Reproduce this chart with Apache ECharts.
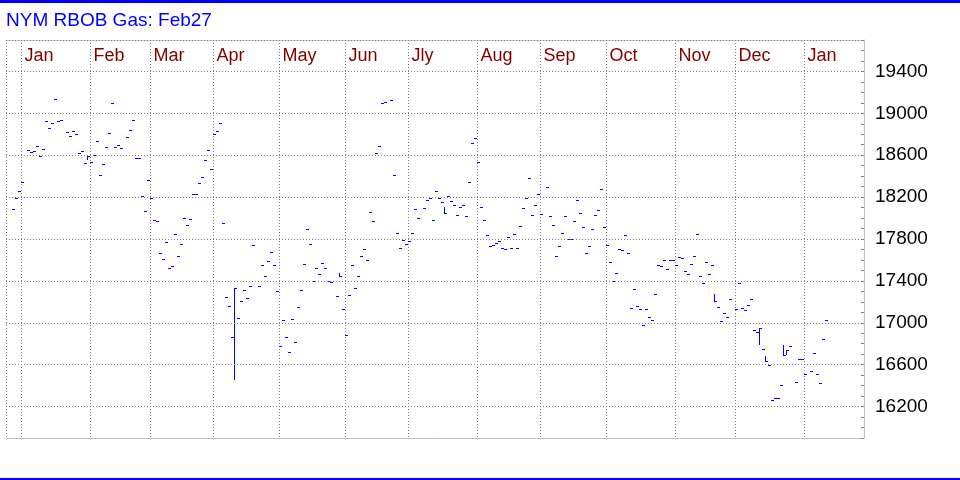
<!DOCTYPE html>
<html>
<head>
<meta charset="utf-8">
<script src="https://cdn.jsdelivr.net/npm/echarts@6/dist/echarts.min.js"></script>
<style>
  html, body { margin: 0; padding: 0; background: #fff; }
  #chart { width: 960px; height: 480px; }
</style>
</head>
<body>
<div id="chart"></div>
<script>
// settlement per weekday, null = no print (holiday / no trade)
var dec24 = [null, null, 18084, 18189, 18254, 18340];
var jan25 = [null, 18646, 18630, 18636, 18684, 18588, 18655, 18923, 18856, 18904, 19134, 18923, 18933, null, 18818, 18780, 18828, 18799, 18617, 18636, 18522, 18588, 18531];
var feb25 = [18598, 18732, 18407, 18512, 18675, 18809, 19096, 18675, 18694, 18665, null, 18770, 18837, 18933, 18569, 18569, 18215, 18072, 18368, 18187];
var mar25 = [17986, 17976, 17670, 17612, 17775, 17526, 17545, 17852, 17641, 17756, 18005, 17938, 17995, 18225, 18225, 18330, 18388, 18550, 18646, 18464, 18799];
var apr25 = [18828, 18904, 17957, 17249, 17163, 16866, 17335, 17048, 17210, 17316, 17239, 17354, 17746, null, 17354, 17555, 17450, 17593, 17679, 17555, 17306, 16780];
var may25 = [17029, 16866, 16722, 17038, 16818, 17153, 17316, 17565, 17899, 17756, 17402, 17526, 17469, 17574, 17526, 17402, 17392, null, 17258, 17450, 17134, 16885];
var jun25 = [17268, 17555, 17335, 17450, 17641, 17708, 17603, 18062, 17976, 18617, 18684, 19096, 19105, null, 19124, 18407, 17862, 17718, 17794, 17756, 17785];
var jul25 = [17862, 18091, 18005, null, 18100, 18177, 18187, 17986, 18254, 18187, 18158, 18053, 18215, 18167, 18129, 18033, 18110, 18129, 18024, 18340, 18713, 18761, 18531];
var aug25 = [18110, 17986, 17842, 17737, 17746, 17765, 17785, 17718, 17708, 17823, 17718, 17852, 17718, 17928, 18100, 18196, 18378, 18033, 18120, 18225, 18043];
var sep25 = [null, 18292, 18024, 17938, 17641, 17737, 17862, 18024, 17804, 17804, 17976, 18177, 18053, 17919, 17670, 17737, 17899, 18033, 18081, 18282, 17919, 17746];
var oct25 = [17584, 17402, 17478, 17708, 17698, 17842, 17670, 17143, 17325, 17163, 17134, 16981, 17134, 17057, 17029, 17277, 17555, 17545, 17603, 17517, 17603, 17603, 17555];
var nov25 = [17632, 17622, 17498, 17469, 17565, 17641, 17852, 17450, 17383, 17584, 17469, 17555, 17210, 17153, 17019, 17096, 17057, 17230, null, 17134];
var dec25 = [17383, 17143, 17124, 17172, 17230, 16933, 16914, 16952, 16751, 16636, 16598, 16263, 16282, 16282, 16407, 16694, 16741, 16780, null, 16435, 16655, 16655, 16512];
var jan26 = [null, 16541, 16713, 16512, 16426, 16847, 17029, null, null, null, null, null, null, null, null, null, null, null, null];

// days that traded a visible range: [date, high, low]
var ranges = [
  ['2025-01-30', 18588, 18560],
  ['2025-04-09', 17335, 16464],
  ['2025-05-28', 17478, 17450],
  ['2025-07-16', 18103, 18053],
  ['2025-11-19', 17277, 17210],
  ['2025-12-10', 16952, 16799],
  ['2025-12-12', 16684, 16636],
  ['2025-12-22', 16789, 16694],
  ['2025-12-23', 16741, 16703]
];

var yTicks = [16200, 16600, 17000, 17400, 17800, 18200, 18600, 19000, 19400];
var monthNames = ['Jan', 'Feb', 'Mar', 'Apr', 'May', 'Jun', 'Jly', 'Aug', 'Sep', 'Oct', 'Nov', 'Dec'];

// weekday axis starting Tue 24 Dec 2024
var closes = [].concat(dec24, jan25, feb25, mar25, apr25, may25, jun25, jul25, aug25, sep25, oct25, nov25, dec25, jan26);
var dates = [];
var d = new Date(Date.UTC(2024, 11, 24));
while (dates.length < closes.length) {
  var wd = d.getUTCDay();
  if (wd !== 0 && wd !== 6) dates.push(new Date(d.getTime()));
  d.setUTCDate(d.getUTCDate() + 1);
}
function iso(dt) { return dt.toISOString().slice(0, 10); }
var cats = dates.map(iso);

// month divider sits on the last weekday of the previous month
var divider = dates.map(function (dt, i) {
  return i < dates.length - 1 && dates[i + 1].getUTCMonth() !== dt.getUTCMonth();
});

var rangeMap = {};
ranges.forEach(function (r) { rangeMap[r[0]] = r; });

var bars = [];
closes.forEach(function (c, i) {
  if (c == null) return;
  var r = rangeMap[cats[i]];
  bars.push([i, c, r ? r[1] : c, r ? r[2] : c]);
});

var dots = { color: '#808080', width: 1, type: [1, 2] };

var myChart = echarts.init(document.getElementById('chart'));
var option = {
  animation: false,
  backgroundColor: '#ffffff',
  textStyle: { fontFamily: 'Liberation Sans, Arial, sans-serif' },
  title: {
    text: 'NYM RBOB Gas: Feb27',
    left: 6,
    top: 11,
    padding: 0,
    textStyle: { color: '#0000ff', fontSize: 19, fontWeight: 'normal', fontFamily: 'Liberation Sans, Arial, sans-serif' }
  },
  graphic: [
    { type: 'rect', shape: { x: 0, y: 0, width: 960, height: 3 }, style: { fill: '#0000ff' }, silent: true },
    { type: 'rect', shape: { x: 0, y: 478, width: 960, height: 2 }, style: { fill: '#0000ff' }, silent: true }
  ],
  grid: { left: 6, right: 96, top: 40, bottom: 42, containLabel: false },
  xAxis: [
    {
      type: 'category',
      data: cats,
      position: 'top',
      boundaryGap: true,
      axisLine: { show: true, onZero: false, lineStyle: dots },
      axisTick: { show: false },
      axisLabel: {
        inside: true,
        interval: function (i) { return divider[i]; },
        formatter: function (v, i) { return monthNames[dates[i + 1].getUTCMonth()]; },
        color: '#800000',
        fontSize: 18,
        align: 'left',
        margin: 7,
        padding: [0, 0, 0, 2]
      },
      splitLine: {
        show: true,
        interval: function (i) { return i === 0 || divider[i]; },
        lineStyle: dots
      }
    },
    {
      type: 'category',
      data: cats,
      position: 'bottom',
      axisLine: { show: true, onZero: false, lineStyle: { color: '#c0c0c0', width: 1 } },
      axisTick: { show: false },
      axisLabel: { show: false },
      splitLine: { show: false }
    }
  ],
  yAxis: {
    type: 'value',
    position: 'right',
    min: 15900,
    max: 19700,
    interval: 100,
    axisLine: { show: true, lineStyle: { color: '#c0c0c0', width: 1 } },
    axisTick: { show: true, inside: true, length: 3, lineStyle: { color: '#808080' } },
    axisLabel: {
      color: '#000000',
      fontSize: 19,
      margin: 11,
      formatter: function (v) { return yTicks.indexOf(v) >= 0 ? String(v) : ''; }
    },
    splitLine: { show: false }
  },
  series: [
    {
      type: 'custom',
      xAxisIndex: 0,
      data: bars,
      renderItem: function (params, api) {
        var idx = api.value(0);
        var c = api.coord([idx, api.value(1)]);
        var hi = api.coord([idx, api.value(2)]);
        var lo = api.coord([idx, api.value(3)]);
        var w = api.size([1, 0])[0];
        var left = Math.round(c[0] - w / 2);
        var kids = [{
          type: 'rect',
          shape: { x: left, y: Math.round(c[1]), width: 3, height: 1 },
          style: { fill: '#0000ff' }
        }];
        if (lo[1] - hi[1] >= 1) {
          kids.push({
            type: 'rect',
            shape: { x: left, y: Math.round(hi[1]), width: 1, height: Math.round(lo[1]) - Math.round(hi[1]) + 1 },
            style: { fill: '#0000ff' }
          });
        }
        return { type: 'group', children: kids };
      },
      markLine: {
        silent: true,
        symbol: ['none', 'none'],
        label: { show: false },
        lineStyle: dots,
        data: yTicks.map(function (v) { return { yAxis: v }; })
      }
    }
  ]
};
option && myChart.setOption(option);
</script>
</body>
</html>
